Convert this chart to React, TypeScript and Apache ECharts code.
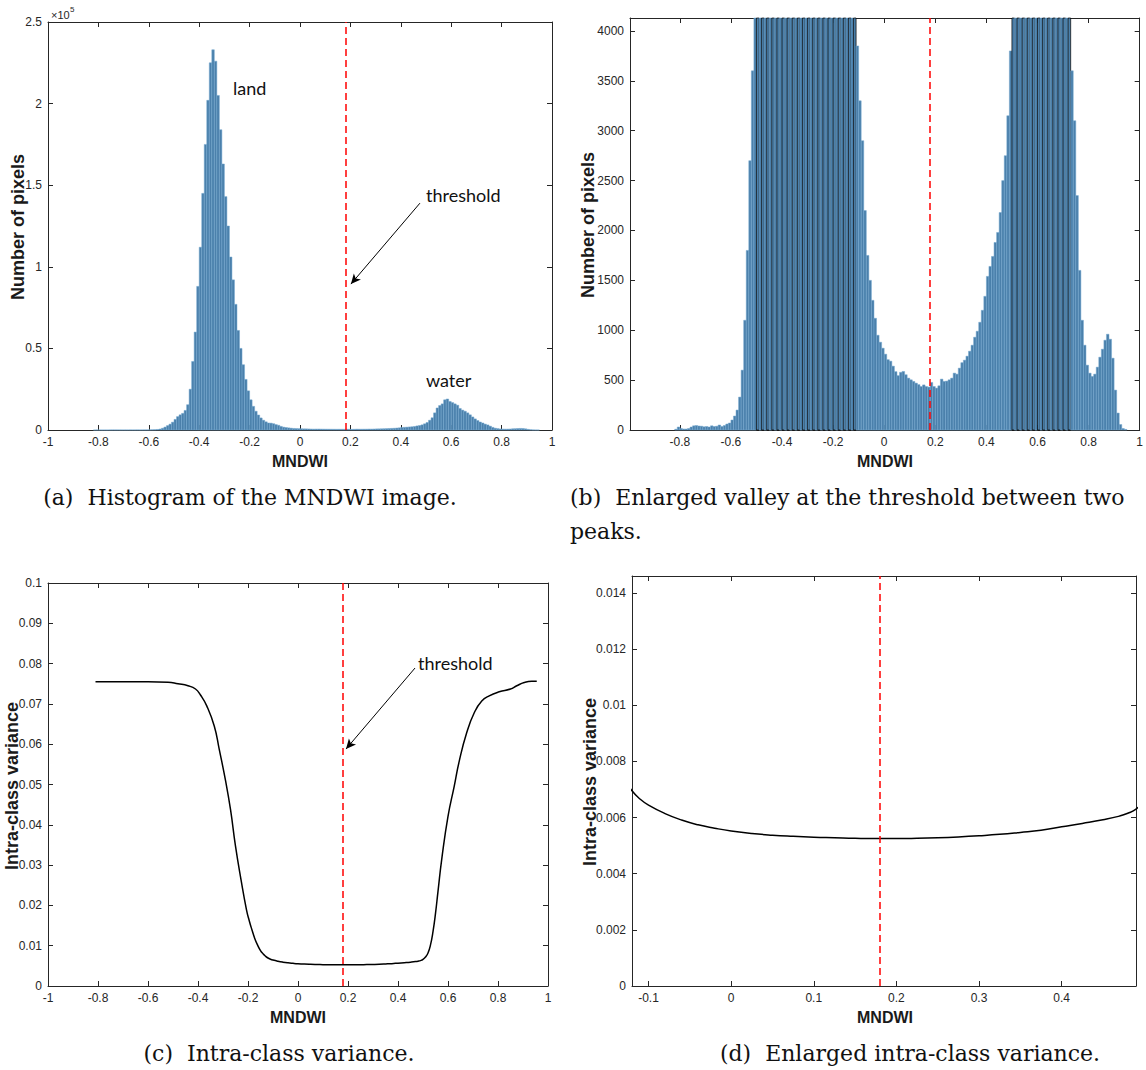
import React, { useEffect, useRef } from 'react';
import * as echarts from 'echarts';

// ---------- data ----------
const THRESHOLD = 0.176;
const BIN_START = -0.84;
const BIN_WIDTH = 0.01;
const histCounts = [
  0, 0, 8, 30, 15, 10, 10, 15, 30, 42,
  45, 40, 38, 32, 35, 30, 42, 35, 38, 50,
  35, 45, 60, 70, 100, 140, 200, 330, 600, 1100,
  1800, 2700, 3600, 4800, 6500, 8200, 9300, 10200, 12000, 15500,
  25000, 42000, 60000, 88000, 112000, 145000, 175000, 202000, 225000, 233000,
  226000, 205000, 184000, 163000, 143000, 125000, 106000, 92000, 77000, 61000,
  50000, 40000, 31000, 24000, 18500, 14500, 11500, 9200, 7400, 6000,
  5000, 4300, 4200, 3850, 3300, 2900, 2200, 1750, 1500, 1300,
  1120, 950, 880, 820, 760, 705, 690, 640, 585, 545,
  578, 587, 554, 520, 503, 487, 470, 455, 436, 452,
  436, 430, 477, 436, 420, 443, 510, 487, 490, 503,
  520, 570, 560, 620, 675, 700, 740, 790, 850, 930,
  990, 1080, 1200, 1340, 1540, 1640, 1740, 1880, 1980, 2180,
  2500, 2750, 3150, 3800, 4600, 6000, 7500, 10500, 13500, 15000,
  16000, 18500, 19000, 17500, 16800, 16000, 15200, 13200, 12200, 11500,
  10500, 9300, 8000, 6800, 5800, 4900, 4300, 3600, 3100, 2350,
  1600, 1100, 850, 650, 570, 537, 560, 630, 730, 810,
  900, 960, 910, 720, 400, 170, 55, 15, 6, 0,
];

const varianceX = [
  -0.81, -0.7, -0.6, -0.52, -0.48, -0.44, -0.41, -0.39, -0.365, -0.335,
  -0.315, -0.29, -0.27, -0.25, -0.228, -0.206, -0.195, -0.184, -0.173, -0.162,
  -0.15, -0.14, -0.13, -0.12, -0.11, -0.1, -0.08, -0.06, -0.04, -0.02,
  0, 0.025, 0.05, 0.075, 0.1, 0.125, 0.15, 0.175, 0.2, 0.225,
  0.25, 0.275, 0.3, 0.325, 0.35, 0.375, 0.4, 0.425, 0.45, 0.47,
  0.48, 0.49, 0.5, 0.51, 0.52, 0.53, 0.54, 0.55, 0.56, 0.575,
  0.6, 0.625, 0.645, 0.675, 0.705, 0.735, 0.765, 0.805, 0.85, 0.875,
  0.905, 0.935, 0.955,
];
const varianceY = [
  0.0755, 0.0755, 0.0755, 0.0754, 0.075, 0.0745, 0.0737, 0.0722, 0.0695, 0.0645,
  0.0587, 0.051, 0.0438, 0.0347, 0.0264, 0.0189, 0.0162, 0.0139, 0.0118, 0.0102,
  0.0088, 0.008, 0.0074, 0.00695, 0.00665, 0.00644, 0.00614, 0.00591, 0.00574, 0.00562,
  0.00552, 0.00543, 0.00537, 0.00533, 0.0053, 0.00528, 0.00526, 0.00525, 0.00525, 0.00526,
  0.00528, 0.00531, 0.00535, 0.0054, 0.00547, 0.00555, 0.00567, 0.00579, 0.00592, 0.00605,
  0.00615, 0.0063, 0.0066, 0.0072, 0.0082, 0.0102, 0.0135, 0.018, 0.0235, 0.0315,
  0.0421, 0.0496, 0.0558, 0.0629, 0.0678, 0.0707, 0.072, 0.073, 0.0737, 0.0745,
  0.0753, 0.0756, 0.0756,
];

const xTicksFull = [-1, -0.8, -0.6, -0.4, -0.2, 0, 0.2, 0.4, 0.6, 0.8, 1];
const xTicksB = [-0.8, -0.6, -0.4, -0.2, 0, 0.2, 0.4, 0.6, 0.8, 1];
const xTicksD = [-0.1, 0, 0.1, 0.2, 0.3, 0.4];
const yTicksA = [0, 50000, 100000, 150000, 200000, 250000];
const yTicksB = [0, 500, 1000, 1500, 2000, 2500, 3000, 3500, 4000];
const yTicksC = [0, 0.01, 0.02, 0.03, 0.04, 0.05, 0.06, 0.07, 0.08, 0.09, 0.1];
const yTicksD = [0, 0.002, 0.004, 0.006, 0.008, 0.01, 0.012, 0.014];

const captions = [
  '(a)\u00a0 Histogram of the MNDWI image.',
  '(b)\u00a0 Enlarged valley at the threshold between two',
  'peaks.',
  '(c)\u00a0 Intra-class variance.',
  '(d)\u00a0 Enlarged intra-class variance.',
];

// ---------- styles ----------
const AX = '#262626';
const SANS = '"Liberation Sans", Arial, Helvetica, sans-serif';
const SERIF = '"DejaVu Serif", "Liberation Serif", serif';
const ANNOT = 'Lato, "Open Sans", sans-serif';
const B_MAX = 4130;

const fmt = (v: number) => String(parseFloat(Number(v).toFixed(6)));

function xAxes(grid: number, min: number, max: number, ticks: number[]) {
  const base: any = {
    type: 'value', gridIndex: grid, min, max,
    splitLine: { show: false },
    axisLine: { show: true, onZero: false, lineStyle: { color: AX, width: 1 } },
    axisTick: { show: true, inside: true, length: 5, customValues: ticks, lineStyle: { color: AX } },
  };
  return [
    { ...base, position: 'bottom',
      axisLabel: { customValues: ticks, color: AX, fontSize: 12, fontFamily: SANS, margin: 6, formatter: fmt } },
    { ...base, position: 'top', axisLabel: { show: false } },
  ];
}
function yAxes(grid: number, min: number, max: number, ticks: number[], f: (v: number) => string) {
  const base: any = {
    type: 'value', gridIndex: grid, min, max,
    splitLine: { show: false },
    axisLine: { show: true, onZero: false, lineStyle: { color: AX, width: 1 } },
    axisTick: { show: true, inside: true, length: 5, customValues: ticks, lineStyle: { color: AX } },
  };
  return [
    { ...base, position: 'left',
      axisLabel: { customValues: ticks, color: AX, fontSize: 12, fontFamily: SANS, margin: 6, formatter: f } },
    { ...base, position: 'right', axisLabel: { show: false } },
  ];
}

function histSeries(axisIdx: number, clipMax: number | null) {
  const data = histCounts.map((c, i) => [BIN_START + i * BIN_WIDTH, BIN_START + (i + 1) * BIN_WIDTH, c]);
  return {
    type: 'custom',
    xAxisIndex: axisIdx, yAxisIndex: axisIdx,
    data,
    encode: { x: [0, 1], y: 2 },
    silent: true,
    renderItem: (params: any, api: any) => {
      const x0 = api.value(0), x1 = api.value(1), v = api.value(2);
      if (!v) return null;
      const p0 = api.coord([x0, 0]);
      const p1 = api.coord([x1, v]);
      const cs = params.coordSys;
      const top = Math.max(p1[1], cs.y);
      const over = clipMax !== null && v > clipMax;
      const blackEdge = over && params.dataIndex % 2 === 0;
      return {
        type: 'rect',
        shape: { x: p0[0], y: top, width: p1[0] - p0[0], height: p0[1] - top },
        style: {
          fill: '#4b80ab',
          stroke: blackEdge ? '#000' : '#75a9d1',
          lineWidth: blackEdge ? 0.7 : 0.5,
        },
      };
    },
  };
}

function thresholdSeries(axisIdx: number, arrow: any[] | null) {
  const dataML: any[] = [{ xAxis: THRESHOLD }];
  if (arrow) {
    const ls = { color: '#000', type: 'solid', width: 1 };
    dataML.push([
      { coord: arrow[0], symbol: 'none', lineStyle: ls },
      { coord: arrow[1], symbol: 'arrow', symbolSize: [7, 10], lineStyle: ls },
    ]);
  }
  return {
    type: 'line',
    xAxisIndex: axisIdx, yAxisIndex: axisIdx,
    data: [[THRESHOLD, 0]],
    symbol: 'none',
    lineStyle: { width: 0, opacity: 0 },
    silent: true,
    markLine: {
      silent: true,
      symbol: ['none', 'none'],
      label: { show: false },
      lineStyle: { color: '#ff0000', type: [7, 4], width: 1.5 },
      data: dataML,
    },
  };
}

function varianceSeries(axisIdx: number) {
  return {
    type: 'line',
    xAxisIndex: axisIdx, yAxisIndex: axisIdx,
    data: varianceX.map((x, i) => [x, varianceY[i]]),
    showSymbol: false,
    symbol: 'none',
    smooth: 0.5,
    lineStyle: { color: '#000', width: 1.5 },
    silent: true,
  };
}

const App: React.FC = () => {
  const ref = useRef<HTMLDivElement>(null);
  useEffect(() => {
    if (!ref.current) return;
    const chart = echarts.init(ref.current, null, { renderer: 'svg' });
    const option: any = {
      animation: false,
      backgroundColor: '#ffffff',
      grid: [
        { left: 48, top: 22, width: 504, height: 408 },
        { left: 630, top: 18, width: 510, height: 412 },
        { left: 48, top: 583, width: 500, height: 403 },
        { left: 632, top: 576, width: 504, height: 410 },
      ],
      xAxis: [
        ...xAxes(0, -1, 1, xTicksFull),
        ...xAxes(1, -0.995, 1, xTicksB),
        ...xAxes(2, -1, 1, xTicksFull),
        ...xAxes(3, -0.12, 0.49, xTicksD),
      ],
      yAxis: [
        ...yAxes(0, 0, 250000, yTicksA, (v) => fmt(v / 100000)),
        ...yAxes(1, 0, B_MAX, yTicksB, fmt),
        ...yAxes(2, 0, 0.1, yTicksC, fmt),
        ...yAxes(3, 0, 0.0146, yTicksD, fmt),
      ],
      series: [
        histSeries(0, null),
        thresholdSeries(0, [[0.476, 139000], [0.202, 89400]]),
        histSeries(2, B_MAX),
        thresholdSeries(2, null),
        varianceSeries(4),
        thresholdSeries(4, [[0.468, 0.0789], [0.192, 0.0588]]),
        varianceSeries(6),
        thresholdSeries(6, null),
      ],
    };
    chart.setOption(option);

    const px = (axisIdx: number, p: number[]) =>
      chart.convertToPixel({ xAxisIndex: axisIdx, yAxisIndex: axisIdx } as any, p) as number[];
    const annot = (axisIdx: number, p: number[], text: string) => {
      const q = px(axisIdx, p);
      return {
        type: 'text', x: q[0], y: q[1], silent: true,
        style: { text, fill: '#111', fontSize: 18, fontFamily: ANNOT, textAlign: 'left', textVerticalAlign: 'middle' },
      };
    };
    const yTitle = (x: number, y: number, text: string) => ({
      type: 'text', x, y, rotation: Math.PI / 2, silent: true,
      style: { text, fill: '#1a1a1a', fontSize: 18, fontWeight: 'bold', fontFamily: SANS, textAlign: 'center', textVerticalAlign: 'middle' },
    });
    const xTitle = (x: number, y: number) => ({
      type: 'text', x, y, silent: true,
      style: { text: 'MNDWI', fill: '#1a1a1a', fontSize: 16, fontWeight: 'bold', fontFamily: SANS, textAlign: 'center', textVerticalAlign: 'middle' },
    });
    const cap = (x: number, y: number, text: string, align: string) => ({
      type: 'text', x, y, silent: true,
      style: { text, fill: '#111', fontSize: 22, fontFamily: SERIF, textAlign: align, textVerticalAlign: 'middle' },
    });

    chart.setOption({
      graphic: [
        annot(0, [-0.266, 209500], 'land'),
        annot(0, [0.5, 144000], 'threshold'),
        annot(0, [0.5, 30600], 'water'),
        annot(4, [0.48, 0.0801], 'threshold'),
        { type: 'text', x: 51, y: 15, silent: true,
          style: { text: '\u00d710', fill: AX, fontSize: 11, fontFamily: SANS, textAlign: 'left', textVerticalAlign: 'middle' } },
        { type: 'text', x: 70, y: 9, silent: true,
          style: { text: '5', fill: AX, fontSize: 8, fontFamily: SANS, textAlign: 'left', textVerticalAlign: 'middle' } },
        yTitle(18, 227, 'Number of pixels'),
        yTitle(588, 225, 'Number of pixels'),
        yTitle(12, 786, 'Intra-class variance'),
        yTitle(590, 782, 'Intra-class variance'),
        xTitle(300, 461),
        xTitle(885, 461),
        xTitle(298, 1017),
        xTitle(885, 1017),
        cap(250, 497, captions[0], 'center'),
        cap(570, 497, captions[1], 'left'),
        cap(570, 531, captions[2], 'left'),
        cap(279, 1053, captions[3], 'center'),
        cap(910, 1053, captions[4], 'center'),
      ],
    });

    return () => chart.dispose();
  }, []);
  return (
    <div
      ref={ref}
      style={{ position: 'absolute', left: 0, top: 0, width: 1146, height: 1070, background: '#fff' }}
    />
  );
};

export default App;
